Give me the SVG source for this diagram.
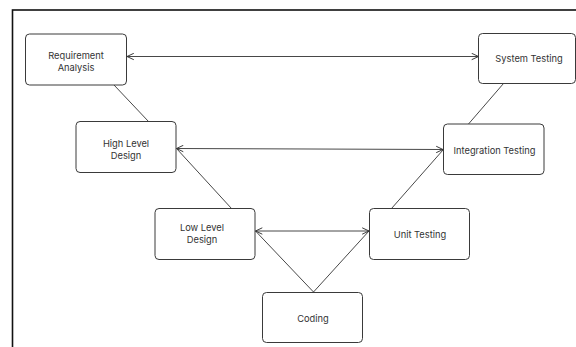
<svg xmlns="http://www.w3.org/2000/svg" width="576" height="347" viewBox="0 0 576 347">
<defs>
<style>
.frame{fill:none;stroke:#111;stroke-width:1.6}
.node rect{fill:#fff;stroke:#3a3a3a;stroke-width:1}
.node text{font-family:Inter,"Liberation Sans",sans-serif;font-size:9.3px;fill:#333;text-anchor:middle}
.conn line{stroke:#333;stroke-width:0.9;fill:none}
.arr{marker-start:url(#ah);marker-end:url(#ah)}
</style>
<marker id="ah" viewBox="0 0 10 10" refX="9.5" refY="5" markerWidth="8" markerHeight="8" markerUnits="userSpaceOnUse" orient="auto-start-reverse">
<path d="M1,1 L9.5,5 L1,9" fill="none" stroke="#333" stroke-width="1.2"/>
</marker>
</defs>
<rect width="576" height="347" fill="#fff"/>
<rect class="frame" x="12.5" y="10" width="600" height="400"/>
<g id="connectors" class="conn">
<line class="arr" x1="127" y1="56.5" x2="478.5" y2="56.5"/>
<line class="arr" x1="176.5" y1="148.5" x2="443" y2="149.5"/>
<line class="arr" x1="255.5" y1="231" x2="369" y2="231"/>
<line x1="114" y1="85" x2="148.5" y2="121.5"/>
<line x1="503.5" y1="83.5" x2="468.5" y2="124"/>
<line x1="176.5" y1="148.5" x2="231.5" y2="208.5"/>
<line x1="443" y1="150" x2="391.5" y2="208.5"/>
<line x1="255.5" y1="231" x2="313.5" y2="292"/>
<line x1="369" y1="231" x2="313.5" y2="292"/>
</g>
<g id="requirement-analysis" class="node">
<rect x="25.5" y="34" width="101" height="51" rx="4"/>
<text x="76" y="59">Requirement</text>
<text x="76" y="71">Analysis</text>
</g>
<g id="system-testing" class="node">
<rect x="478.5" y="33.5" width="97" height="50" rx="4"/>
<text x="529" y="62">System Testing</text>
</g>
<g id="high-level-design" class="node">
<rect x="76" y="121.5" width="100" height="51" rx="4"/>
<text x="126" y="146.5">High Level</text>
<text x="126" y="158.5">Design</text>
</g>
<g id="integration-testing" class="node">
<rect x="443.5" y="124" width="100.5" height="50.5" rx="4"/>
<text x="494.5" y="154">Integration Testing</text>
</g>
<g id="low-level-design" class="node">
<rect x="155" y="208.5" width="100" height="51" rx="4"/>
<text x="202" y="231">Low Level</text>
<text x="202" y="243">Design</text>
</g>
<g id="unit-testing" class="node">
<rect x="369.5" y="208.5" width="100" height="51" rx="4"/>
<text x="420" y="237.5">Unit Testing</text>
</g>
<g id="coding" class="node">
<rect x="262.5" y="292.5" width="100" height="50" rx="4"/>
<text x="313" y="321.5">Coding</text>
</g>
</svg>
